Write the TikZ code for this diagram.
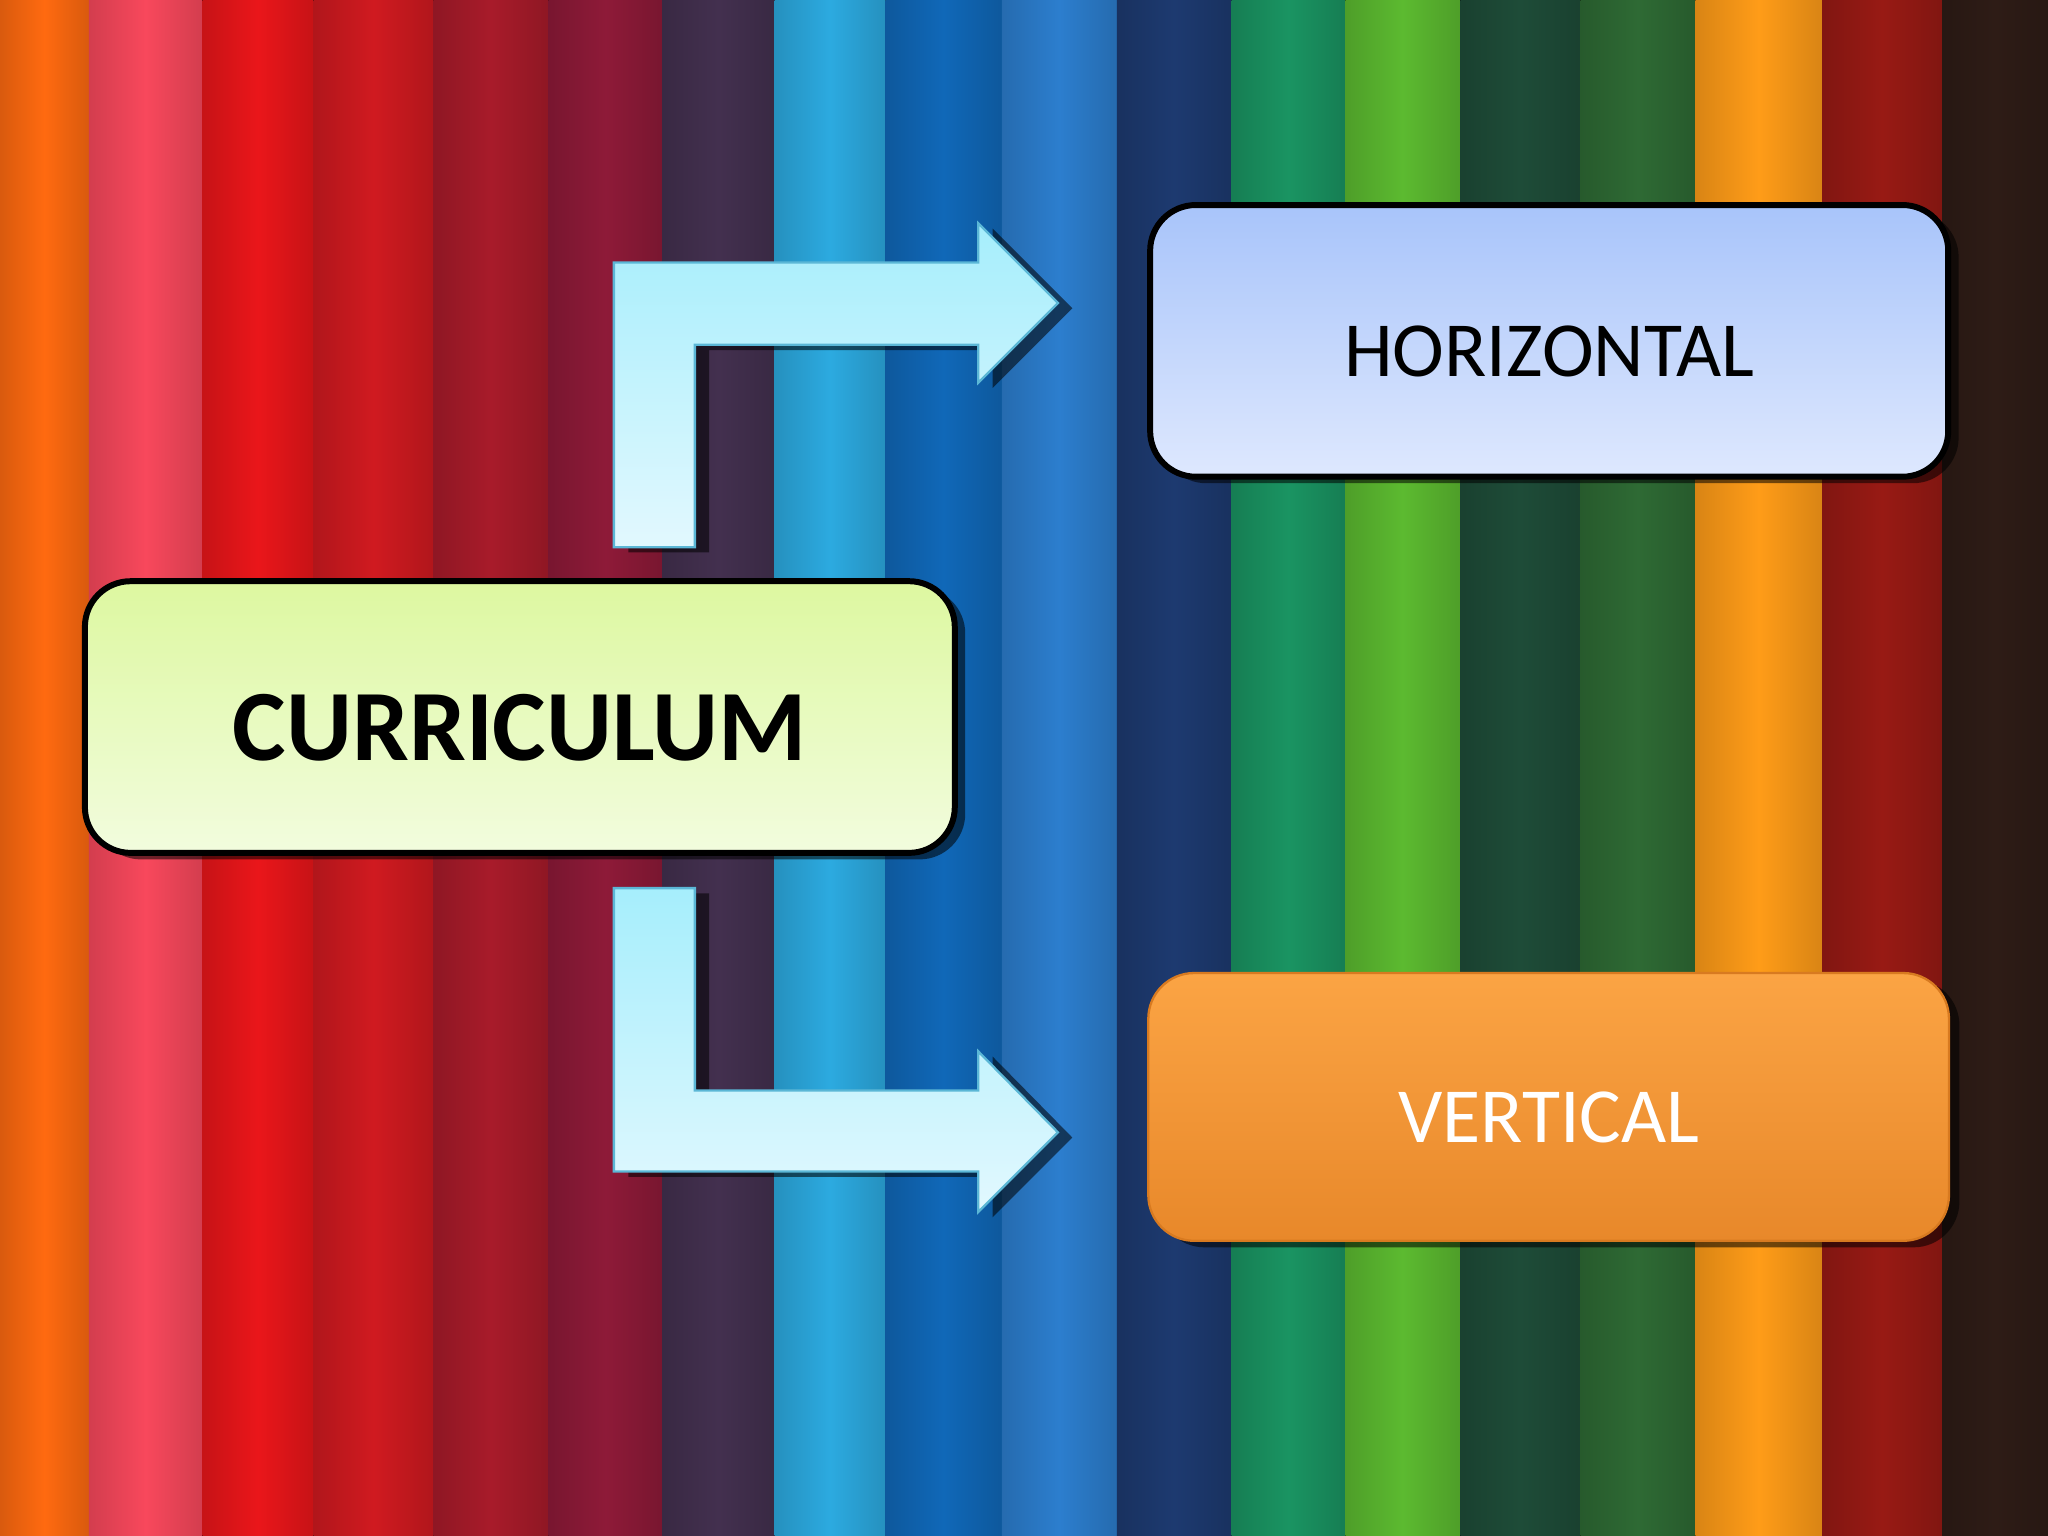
\documentclass[tikz,border=0pt]{standalone}
\usepackage{fontspec}
\setmainfont{Carlito}
\usetikzlibrary{positioning,shadows}

% pencil stripes, left to right
\definecolor{stripeA}{HTML}{FF6A10}
\definecolor{stripeB}{HTML}{F8485C}
\definecolor{stripeC}{HTML}{EA161A}
\definecolor{stripeD}{HTML}{D01A20}
\definecolor{stripeE}{HTML}{A81B2A}
\definecolor{stripeF}{HTML}{8E1A38}
\definecolor{stripeG}{HTML}{43304F}
\definecolor{stripeH}{HTML}{2CAAE0}
\definecolor{stripeI}{HTML}{1068B8}
\definecolor{stripeJ}{HTML}{2C7ECE}
\definecolor{stripeK}{HTML}{1D3A70}
\definecolor{stripeL}{HTML}{1A9462}
\definecolor{stripeM}{HTML}{5CBA30}
\definecolor{stripeN}{HTML}{1E4C38}
\definecolor{stripeO}{HTML}{2E6A34}
\definecolor{stripeP}{HTML}{FF9C18}
\definecolor{stripeQ}{HTML}{981A14}
\definecolor{stripeR}{HTML}{2E1C16}

\definecolor{currtop}{HTML}{DDF8A0}
\definecolor{currbottom}{HTML}{F2FCDE}
\definecolor{horiztop}{HTML}{A8C4FA}
\definecolor{horizbottom}{HTML}{DEE8FE}
\definecolor{verttop}{HTML}{FBA444}
\definecolor{vertbottom}{HTML}{E8882A}
\definecolor{vertedge}{HTML}{D87A20}
\definecolor{arrowtop}{HTML}{A6EEFC}
\definecolor{arrowbottom}{HTML}{E2F8FE}
\definecolor{arrowedge}{HTML}{5BB7D6}

\begin{document}
\begin{tikzpicture}[node distance=1.45cm,
  box/.style={rounded corners=0.35cm, minimum width=6.11cm, minimum height=2.08cm,
    text depth=0pt, text height=0.54cm,
    drop shadow={shadow xshift=0.08cm, shadow yshift=-0.05cm, opacity=0.55, fill=black}},
  bentarrow/.style={draw=arrowedge, line width=0.5pt, top color=arrowtop, bottom color=arrowbottom,
    drop shadow={shadow xshift=0.11cm, shadow yshift=-0.04cm, opacity=0.55, fill=black}}]
  \useasboundingbox (0,0) rectangle (15.68,11.76);

  % background
  \foreach \a/\b/\c in {0/0.68/stripeA, 0.68/1.55/stripeB, 1.55/2.40/stripeC, 2.40/3.32/stripeD,
      3.32/4.20/stripeE, 4.20/5.07/stripeF, 5.07/5.93/stripeG, 5.93/6.78/stripeH,
      6.78/7.67/stripeI, 7.67/8.55/stripeJ, 8.55/9.43/stripeK, 9.43/10.30/stripeL,
      10.30/11.18/stripeM, 11.18/12.10/stripeN, 12.10/12.98/stripeO, 12.98/13.95/stripeP,
      13.95/14.87/stripeQ, 14.87/15.68/stripeR}
    \fill[left color=\c!85!black, right color=\c!85!black, middle color=\c] (\a,0) rectangle (\b,11.76);

  % arrows
  \draw[bentarrow] (4.70,7.57) -- (4.70,9.75) -- (7.49,9.75) -- (7.49,10.05) -- (8.10,9.44)
    -- (7.49,8.83) -- (7.49,9.12) -- (5.32,9.12) -- (5.32,7.57) -- cycle;
  \draw[bentarrow] (4.70,4.96) -- (5.32,4.96) -- (5.32,3.41) -- (7.49,3.41) -- (7.49,3.71)
    -- (8.10,3.09) -- (7.49,2.48) -- (7.49,2.79) -- (4.70,2.79) -- cycle;

  % boxes
  \node[box, draw=black, line width=1.3pt, top color=currtop, bottom color=currbottom,
    minimum width=6.66cm, text height=0.66cm, font=\fontsize{22}{26}\selectfont\bfseries] (curr) at (3.98,6.27) {CURRICULUM};
  \node[box, draw=black, line width=1.3pt, top color=horiztop, bottom color=horizbottom,
    right=of curr, yshift=2.88cm, font=\fontsize{17}{20}\selectfont] (horiz) {HORIZONTAL};
  \node[box, draw=vertedge, line width=0.5pt, top color=verttop, bottom color=vertbottom, text=white,
    minimum width=6.13cm, minimum height=2.05cm, right=of curr, yshift=-2.985cm,
    font=\fontsize{17}{20}\selectfont] (vert) {VERTICAL};
\end{tikzpicture}
\end{document}
